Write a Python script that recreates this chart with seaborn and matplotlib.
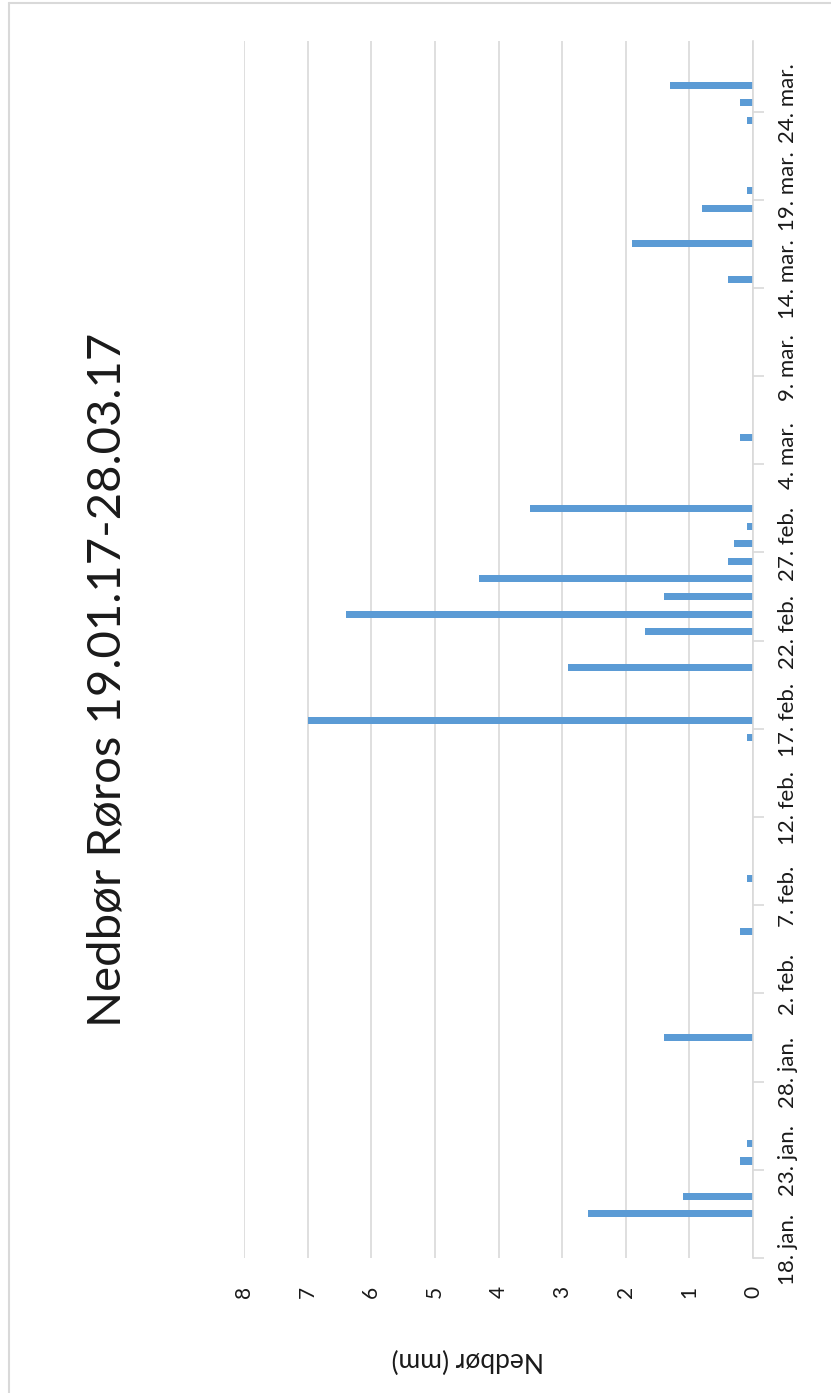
import matplotlib
matplotlib.use("Agg")
import matplotlib.pyplot as plt
import matplotlib.dates as mdates
import matplotlib.lines as mlines
import seaborn as sns
import pandas as pd
import numpy as np

# ---- data ----
dates = ["2017-01-20", "2017-01-21", "2017-01-23", "2017-01-24", "2017-01-30",
         "2017-02-05", "2017-02-08", "2017-02-16", "2017-02-17", "2017-02-20",
         "2017-02-22", "2017-02-23", "2017-02-24", "2017-02-25", "2017-02-26",
         "2017-02-27", "2017-02-28", "2017-03-01", "2017-03-05", "2017-03-14",
         "2017-03-16", "2017-03-18", "2017-03-19", "2017-03-23", "2017-03-24",
         "2017-03-25"]
values = [2.6, 1.1, 0.2, 0.1, 1.4,
          0.2, 0.1, 0.1, 7.0, 2.9,
          1.7, 6.4, 1.4, 4.3, 0.4,
          0.3, 0.1, 3.5, 0.2, 0.4,
          1.9, 0.8, 0.1, 0.1, 0.2,
          1.3]
tick_dates = ["2017-01-18", "2017-01-23", "2017-01-28", "2017-02-02", "2017-02-07",
              "2017-02-12", "2017-02-17", "2017-02-22", "2017-02-27", "2017-03-04",
              "2017-03-09", "2017-03-14", "2017-03-19", "2017-03-24"]
tick_labels = ["18. jan.", "23. jan.", "28. jan.", "2. feb.", "7. feb.",
               "12. feb.", "17. feb.", "22. feb.", "27. feb.", "4. mar.",
               "9. mar.", "14. mar.", "19. mar.", "24. mar."]
value_ticks = [0, 1, 2, 3, 4, 5, 6, 7, 8]
axis_start = "2017-01-18"
axis_end = "2017-03-27"
title = "Nedbør Røros 19.01.17-28.03.17"
ylabel = "Nedbør (mm)"

# ---- style ----
sns.set_theme(style="white")
plt.rcParams["font.family"] = ["Lato", "DejaVu Sans"]
BLUE = "#5B9BD5"
GRID = "#D9D9D9"
TXT = "#1a1a1a"

W, H = 831, 1393
fig = plt.figure(figsize=(W / 100, H / 100), dpi=100)
fig.patch.set_facecolor("white")

left, right, top, bottom = 244, 753, 41, 1258
ax = fig.add_axes([left / W, 1 - bottom / H, (right - left) / W, (bottom - top) / H])

df = pd.DataFrame({"date": mdates.date2num(pd.to_datetime(dates)), "value": values})
sns.barplot(data=df, x="value", y="date", orient="h", native_scale=True,
            width=0.4, color=BLUE, saturation=1, ax=ax, errorbar=None,
            linewidth=0)

ax.set_xlim(max(value_ticks), 0)
y0 = mdates.date2num(pd.Timestamp(axis_start)) - 0.5
y1 = mdates.date2num(pd.Timestamp(axis_end)) + 0.5
ax.set_ylim(y0, y1)

# value axis (bottom, rotated labels)
ax.set_xticks(value_ticks)
ax.set_xticklabels([str(v) for v in value_ticks], rotation=90, fontsize=15, color=TXT)
ax.tick_params(axis="x", length=0, pad=20)
ax.xaxis.grid(True, color=GRID, linewidth=1.2)
ax.yaxis.grid(False)
ax.set_axisbelow(True)

# date axis (right)
centers = mdates.date2num(pd.to_datetime(tick_dates))
ax.yaxis.tick_right()
ax.set_yticks(centers - 0.5)
ax.set_yticklabels([])
ax.set_yticks(centers, labels=tick_labels, minor=True)
ax.tick_params(axis="y", which="major", length=8, width=1.2, color=GRID,
               direction="out", right=True, left=False, labelright=False)
ax.tick_params(axis="y", which="minor", length=0, pad=18, right=True, left=False,
               labelright=True, labelleft=False, labelsize=16, labelcolor=TXT)
for lbl in ax.get_yticklabels(minor=True):
    lbl.set_rotation(90)
    lbl.set_va("center")

ax.set_xlabel("")
ax.set_ylabel("")
for s in ["left", "top", "bottom"]:
    ax.spines[s].set_visible(False)
ax.spines["right"].set_color(GRID)
ax.spines["right"].set_linewidth(1.2)

# title and axis title (rotated with the chart)
fig.text(108 / W, 1 - 680 / H, title, rotation=90, ha="center", va="center",
         fontsize=34, color=TXT)
fig.text(468 / W, 1 - 1360 / H, ylabel, rotation=180, ha="center", va="center",
         fontsize=19, color=TXT)

# outer chart frame (left and top edges visible)
fig.add_artist(mlines.Line2D([8.5 / W, 8.5 / W], [0, 1 - 3 / H], transform=fig.transFigure,
                             color=GRID, linewidth=1.5))
fig.add_artist(mlines.Line2D([8.5 / W, 1], [1 - 3 / H, 1 - 3 / H], transform=fig.transFigure,
                             color=GRID, linewidth=1.5))

fig.savefig("out.png", dpi=100, facecolor="white")
